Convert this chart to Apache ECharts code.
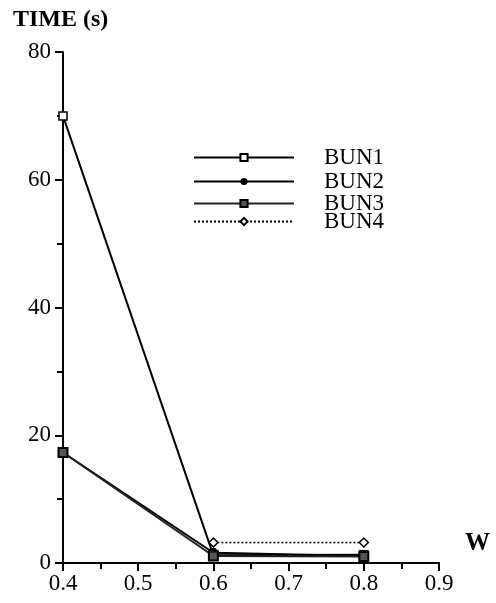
<!DOCTYPE html>
<html><head><meta charset="utf-8">
<script src="https://cdn.jsdelivr.net/npm/echarts@6/dist/echarts.min.js"></script>
<style>html,body{margin:0;padding:0;background:#fff}#c{width:496px;height:603px}</style>
</head><body><div id="c"></div>
<script>
var wValues = [0.4, 0.6, 0.8];
var bun1 = [70, 1.2, 1.3];
var bun2 = [17.3, 1.6, 1.1];
var bun3 = [17.3, 1.1, 1.0];
var bun4 = [null, 3.2, 3.2];
var seriesNames = ['BUN1', 'BUN2', 'BUN3', 'BUN4'];

function pts(vals){ return wValues.map(function(w,i){ return [w, vals[i]]; }); }
var font = '"Liberation Serif", "DejaVu Serif", serif';
var legendTops = [146, 170, 192, 210];
var legends = seriesNames.map(function(n, i){
  return {
    orient: 'vertical', left: 193, top: legendTops[i], padding: 0,
    itemWidth: 100, itemHeight: 9,
    data: [n],
    textStyle: {fontFamily: font, fontSize: 23, color: '#000', padding: [0,0,0,25]}
  };
});
var chart = echarts.init(document.getElementById('c'));
chart.setOption({
  animation: false,
  backgroundColor: '#fff',
  title: [
    {text: 'TIME (s)', left: 8, top: 3, textStyle: {fontFamily: font, fontWeight: 'bold', fontSize: 24, color: '#000'}},
    {text: 'W', left: 460, top: 526, textStyle: {fontFamily: font, fontWeight: 'bold', fontSize: 25, color: '#000'}}
  ],
  grid: {left: 63, right: 57, top: 52, bottom: 40},
  legend: legends,
  xAxis: {
    type: 'value', min: 0.4, max: 0.9, interval: 0.1,
    axisLine: {onZero: false, lineStyle: {color: '#000', width: 2}},
    axisTick: {length: 8, lineStyle: {color: '#000', width: 2}},
    minorTick: {show: true, splitNumber: 2, length: 6, lineStyle: {color: '#000', width: 2}},
    splitLine: {show: false},
    axisLabel: {fontFamily: font, fontSize: 23, color: '#000', margin: 9,
      formatter: function(v){ return v.toFixed(1); }}
  },
  yAxis: {
    type: 'value', min: 0, max: 80, interval: 20,
    axisLine: {show: true, lineStyle: {color: '#000', width: 2}},
    axisTick: {show: true, length: 8, lineStyle: {color: '#000', width: 2}},
    minorTick: {show: true, splitNumber: 2, length: 6, lineStyle: {color: '#000', width: 2}},
    splitLine: {show: false},
    axisLabel: {fontFamily: font, fontSize: 23, color: '#000', margin: 12}
  },
  series: [
    {name: 'BUN1', type: 'line', data: pts(bun1), symbol: 'rect', symbolSize: 8,
      itemStyle: {color: '#fff', borderColor: '#000', borderWidth: 1.5},
      lineStyle: {color: '#000', width: 2}},
    {name: 'BUN2', type: 'line', data: pts(bun2), symbol: 'circle', symbolSize: 9,
      itemStyle: {color: '#000', borderColor: '#000'},
      lineStyle: {color: '#000', width: 2}},
    {name: 'BUN3', type: 'line', data: pts(bun3), symbol: 'rect', symbolSize: 9,
      itemStyle: {color: '#555', borderColor: '#000', borderWidth: 2},
      lineStyle: {color: '#222', width: 2}},
    {name: 'BUN4', type: 'line', data: pts(bun4), symbol: 'diamond', symbolSize: 9,
      itemStyle: {color: '#fff', borderColor: '#000', borderWidth: 1.5},
      lineStyle: {color: '#000', width: 1.5, type: [2, 2]}}
  ]
});
</script></body></html>
